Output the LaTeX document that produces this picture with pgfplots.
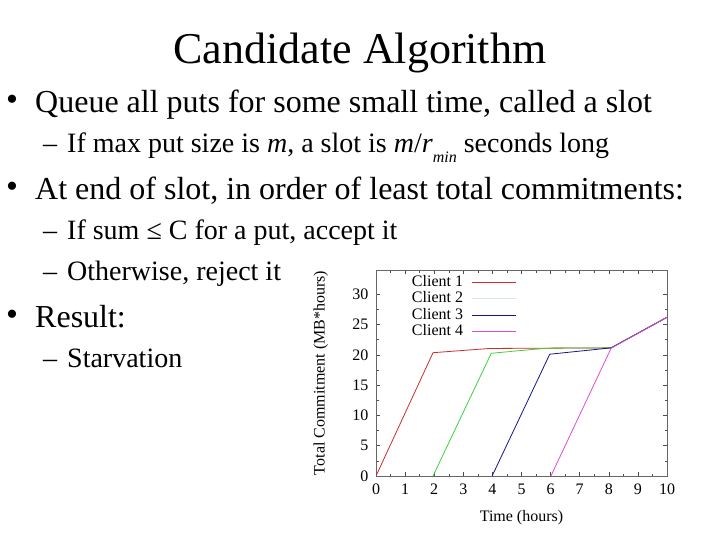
\documentclass[border=0pt]{standalone}
\usepackage{fontspec}
\setmainfont{Liberation Serif}
\usepackage{pgfplots}
\pgfplotsset{compat=1.18}

\definecolor{cred}{RGB}{205,45,45}
\definecolor{cgreen}{RGB}{60,210,60}
\definecolor{cpale}{RGB}{215,235,215}
\definecolor{cblue}{RGB}{20,20,140}
\definecolor{cmag}{RGB}{215,80,215}

\newcommand\lone[2]{% level-one bullet at baseline y
  \node[anchor=base, inner sep=0pt] at (12pt,-#1pt+2pt) {\fontsize{34}{34}\selectfont •};
  \node[anchor=base west, inner sep=0pt] at (35pt,-#1pt) {\fontsize{32}{36}\selectfont #2};}
\newcommand\ltwo[2]{% level-two dash at baseline y
  \node[anchor=base west, inner sep=0pt] at (43pt,-#1pt) {\fontsize{28}{32}\selectfont –};
  \node[anchor=base west, inner sep=0pt] at (67pt,-#1pt) {\fontsize{28}{32}\selectfont #2};}

\begin{document}
\begin{tikzpicture}
\path[use as bounding box, fill=white] (0pt,0pt) rectangle (720pt,-540pt);

\node[anchor=base, inner sep=0pt] at (360pt,-64pt) {\fontsize{44}{48}\selectfont Candidate Algorithm};
\lone{113}{Queue all puts for some small time, called a slot}
\ltwo{153}{If max put size is \textit{m}, a slot is \textit{m}/\textit{r}\raisebox{-0.35em}{\fontsize{16}{16}\selectfont\itshape min} seconds long}
\lone{200}{At end of slot, in order of least total commitments:}
\ltwo{240}{If sum ≤ C for a put, accept it}
\ltwo{280}{Otherwise, reject it}
\lone{327}{Result:}
\ltwo{367}{Starvation}

\begin{axis}[
  at={(376pt,-476pt)}, anchor=south west,
  scale only axis, width=291pt, height=206pt,
  xmin=0, xmax=10, ymin=0, ymax=34,
  xtick={0,1,...,10}, ytick={0,5,...,30},
  minor x tick num=1, minor y tick num=1,
  major tick length=4pt, minor tick length=2.5pt,
  tick style={black!70, line width=0.5pt},
  axis line style={draw=black!60, line width=0.8pt},
  /pgf/number format/assume math mode=true,
  ticklabel style={font=\fontsize{16}{16}\selectfont},
  xticklabel style={yshift=-4pt},
  yticklabel style={xshift=-4pt},
  xlabel={Time (hours)}, ylabel={Total Commitment (MB*hours)},
  label style={font=\fontsize{16}{16}\selectfont},
  xlabel style={at={(axis description cs:0.5,-0.2)}, anchor=center},
  ylabel style={at={(axis description cs:-0.19,0.5)}, anchor=center},
  legend style={at={(axis description cs:0.495,0.99)}, anchor=north east,
    draw=none, fill=none, font=\fontsize{16}{16}\selectfont,
    nodes={inner sep=1pt, text height=11pt, text depth=3pt},
    row sep=0.5pt, column sep=8pt},
  legend cell align=right,
  legend plot pos=right,
  legend image code/.code={\draw[mark repeat=2,mark phase=2,#1] plot coordinates {(0pt,0pt) (22pt,0pt) (44pt,0pt)};},
  every axis plot/.append style={line width=0.8pt},
]
\addplot[cred] coordinates {(0,0) (1.96,20.35) (3.9,21.05) (6,21.1) (8.08,21.15) (10,26.2)};
\addlegendentry{Client 1}
\addplot[cgreen, forget plot] coordinates {(1.96,0) (3.96,20.25) (4.95,20.7) (5.9,21.1) (8.08,21.15) (10,26.2)};
\addlegendimage{cpale, line width=0.8pt}
\addlegendentry{Client 2}
\addplot[cblue] coordinates {(3.99,0) (5.97,20.1) (8.08,21.15) (10,26.2)};
\addlegendentry{Client 3}
\addplot[cmag] coordinates {(6.01,0) (8.08,21.1) (10,26.2)};
\addlegendentry{Client 4}
\end{axis}
\end{tikzpicture}
\end{document}
